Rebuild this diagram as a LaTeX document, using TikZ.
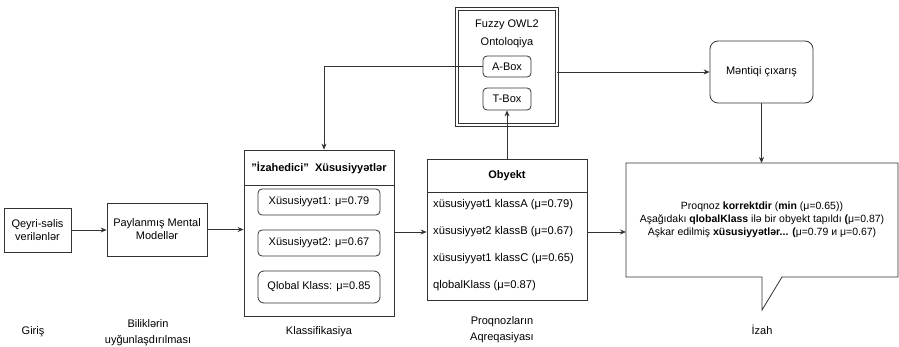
\documentclass[tikz,border=0pt]{standalone}
\usepackage{fontspec}
\setmainfont{Liberation Sans}
\usetikzlibrary{arrows.meta,positioning}
\tikzset{
  ln/.style={draw=black!80, line width=0.8pt},
  arr/.style={ln, -{Stealth[length=6pt,width=5pt]}},
  box/.style={ln, rectangle, inner sep=0pt, align=center, font=\fontsize{11}{13}\selectfont},
  rbox/.style={box, rounded corners=4pt},
  txt/.style={inner sep=0pt, align=center, font=\fontsize{11}{16}\selectfont},
  rowtxt/.style={inner sep=0pt, anchor=west, font=\fontsize{11.2}{13}\selectfont},
}
\begin{document}
\begin{tikzpicture}[x=1pt,y=-1pt]
\useasboundingbox (0,0) rectangle (899,347);
% input
\node[box, minimum width=67pt, minimum height=44pt] (q) at (37.5,230) {Qeyri-səlis\\verilənlər};
\node[box, minimum width=100pt, minimum height=53pt] (p) at (157,229.5) {Paylanmış Mental\\Modellər};
% classification container
\node[box, minimum width=150pt, minimum height=166pt] (k) at (319,233) {};
\draw[ln] (244,185) -- (394,185);
\node[txt, font=\fontsize{11}{13}\selectfont\bfseries] (kh) at (319,167.5) {\char34 İzahedici\char34\ \ Xüsusiyyətlər};
\node[rbox, minimum width=122pt, minimum height=26pt] (x1) at (319,202) {Xüsusiyyət1: μ=0.79};
\node[rbox, minimum width=122pt, minimum height=26pt] (x2) at (319,243) {Xüsusiyyət2: μ=0.67};
\node[rbox, rounded corners=6pt, minimum width=122pt, minimum height=32pt] (x3) at (319,287) {Qlobal Klass: μ=0.85};
% object container
\node[box, minimum width=160pt, minimum height=141pt] (ob) at (507,229.5) {};
\draw[ln] (427,192) -- (587,192);
\node[txt, font=\fontsize{11}{13}\selectfont\bfseries] (obh) at (507,175.5) {Obyekt};
\node[rowtxt] (r1) at (433,205) {xüsusiyyət1 klassA (μ=0.79)};
\node[rowtxt] (r2) at (433,232) {xüsusiyyət2 klassB (μ=0.67)};
\node[rowtxt] (r3) at (433,259) {xüsusiyyət1 klassC (μ=0.65)};
\node[rowtxt] (r4) at (433,286) {qlobalKlass (μ=0.87)};
% ontology
\node[box, double, double distance=1.6pt, minimum width=100pt, minimum height=116pt] (f) at (507,67) {};
\node[txt, font=\fontsize{11}{18}\selectfont] (ft) at (507,34) {Fuzzy OWL2\\Ontoloqiya};
\node[rbox, minimum width=48pt, minimum height=21pt] (ab) at (507,66.5) {A-Box};
\node[rbox, minimum width=48pt, minimum height=22pt] (tb) at (507,99) {T-Box};
% reasoning
\node[rbox, rounded corners=8pt, minimum width=103pt, minimum height=62pt] (m) at (761.5,72) {Məntiqi çıxarış};
% callout
\coordinate (c1) at (626,163);
\coordinate (c2) at (898,163);
\coordinate (c3) at (898,277);
\coordinate (c4) at (782,277);
\coordinate (ctip) at (762,310);
\coordinate (c5) at (762,277);
\coordinate (c6) at (626,277);
\draw[ln] (c1) -- (c2) -- (c3) -- (c4) -- (ctip) -- (c5) -- (c6) -- cycle;
\node[txt, font=\fontsize{10.5}{13.2}\selectfont] (ct) at (762,220) {Proqnoz \textbf{korrektdir} (\textbf{min} (μ=0.65))\\Aşağıdakı \textbf{qlobalKlass} ilə bir obyekt tapıldı \textbf{(}μ=0.87)\\Aşkar edilmiş \textbf{xüsusiyyətlər...} \textbf{(}μ=0.79 и μ=0.67)};
% bottom labels
\node[txt] (l1) at (33,332) {Giriş};
\node[txt] (l2) at (148,332.5) {Biliklərin\\uyğunlaşdırılması};
\node[txt] (l3) at (319,332) {Klassifikasiya};
\node[txt] (l4) at (502,330) {Proqnozların\\Aqreqasiyası};
\node[txt] (l5) at (762,330) {İzah};
% connectors
\draw[arr] (q.east) -- (q.east -| p.west);
\draw[arr] (p.east) -- (p.east -| k.west);
\draw[arr] (r2.west -| k.east) -- (r2.west -| ob.west);
\draw[arr] (r2.west -| ob.east) -- (r2.west -| c1);
\draw[arr] (ob.north) -- (tb.south);
\draw[arr] (ab.west) -| ([xshift=5pt]k.north);
\draw[arr] (m.west -| f.east) -- (m.west);
\draw[arr] (m.south) -- (m.south |- c1);
\end{tikzpicture}
\end{document}
